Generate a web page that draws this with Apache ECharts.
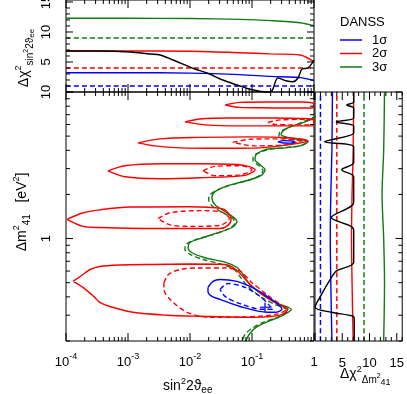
<!DOCTYPE html>
<html>
<head>
<meta charset="utf-8">
<script src="https://cdn.jsdelivr.net/npm/echarts/dist/echarts.min.js"></script>
<style>
html, body { margin: 0; padding: 0; background: #fff; }
#chart { width: 407px; height: 394px; }
</style>
</head>
<body>
<div id="chart"></div>
<script>
// ---- data ----
// top pad: delta chi2 profile vs sin^2(2theta)
var profSin    = [1e-4, 3.5e-4, 1.08e-3, 2.26e-3, 3.3e-3, 5.3e-3, 0.012, 0.0188, 0.034, 0.064, 0.104, 0.175, 0.21, 0.262, 0.367, 0.458, 0.552, 0.64, 0.8, 0.96, 1.0];
var profSinChi = [6.83, 6.83, 6.67, 6.33, 6.17, 5.33, 3.83, 3.17, 2.0, 1.0, 0.33, 0.0, 0.2, 2.33, 1.83, 1.72, 2.33, 3.83, 4.0, 5.0, 5.33];
var levelSin = [1e-4, 1e-3, 1e-2, 0.064, 0.2, 0.594, 1.0];
var chi1Sin  = [3.22, 3.22, 3.15, 2.9, 2.6, 2.4, 1.9];
var chi2Sin  = [6.83, 6.83, 6.8, 6.55, 6.35, 6.17, 5.05];
var chi3Sin  = [12.3, 12.28, 12.25, 12.1, 11.9, 11.55, 11.05];
var chiLevels = [1, 4, 9];
var topTickLabels = [5, 10, 15];

// right pad: delta chi2 profile vs dm2
var profDm    = [10, 8.55, 8.16, 7.78, 6.65, 6.25, 5.87, 5.26, 4.57, 4.23, 3.29, 2.95, 2.64, 1.76, 1.39, 1.15, 0.69, 0.6, 0.526, 0.416, 0.34, 0.314, 0.295, 0.28, 0.2];
var profDmChi = [7.1, 7.1, 5.8, 7.1, 7.1, 3.9, 7.1, 7.1, 1.75, 7.1, 7.1, 4.9, 7.1, 7.1, 3.0, 7.1, 7.1, 3.9, 2.8, 1.2, 0.0, 3.0, 7.0, 7.2, 7.2];
var levelDm = [10, 4, 2, 1, 0.5, 0.2];
var chi1Dm  = [3.2, 3.1, 2.9, 2.8, 2.9, 3.1];
var chi2Dm  = [7.1, 7.0, 6.8, 6.7, 6.8, 7.0];
var chi3Dm  = [12.75, 12.6, 12.3, 12.6, 12.75, 12.6];
var dmTickLabels = [1, 10];

// main pad: contours [sin^2 2theta, dm2]
var red2A = [[0.037,8.16],[0.064,8.5],[0.195,8.55],[0.594,8.55],[0.93,8.45],[1.0,8.16],[0.93,7.78],[0.41,7.78],[0.135,7.8],[0.064,7.85],[0.037,8.16]];
var red2B = [[0.0083,6.25],[0.0145,6.55],[0.044,6.65],[0.195,6.65],[0.594,6.6],[0.93,6.55],[1.0,6.25],[0.93,5.87],[0.283,5.87],[0.064,5.87],[0.0175,5.97],[0.0083,6.25]];
var red1B = [[0.181,6.2],[0.283,6.45],[0.594,6.5],[1.0,6.45],[1.0,5.97],[0.41,5.97],[0.235,6.0],[0.181,6.2]];
var red2C = [[0.00145,4.5],[0.0033,4.79],[0.0145,4.9],[0.093,4.94],[0.41,4.86],[0.8,4.65],[0.494,4.43],[0.135,4.16],[0.0305,4.13],[0.0069,4.16],[0.0027,4.29],[0.00145,4.5]];
var red1C = [[0.049,4.53],[0.093,4.76],[0.283,4.79],[0.6,4.62],[0.34,4.36],[0.112,4.29],[0.049,4.53]];
var blue1C = [[0.262,4.57],[0.32,4.66],[0.42,4.64],[0.494,4.57],[0.42,4.48],[0.32,4.49],[0.262,4.57]];
var red2D = [[4.75e-4,2.9],[8.95e-4,3.14],[3.3e-3,3.24],[0.0145,3.24],[0.064,3.19],[0.112,2.95],[0.077,2.7],[0.0145,2.6],[3.3e-3,2.56],[8.95e-4,2.64],[4.75e-4,2.9]];
var red1D = [[0.0162,2.9],[0.0253,3.11],[0.064,3.14],[0.1,2.95],[0.064,2.72],[0.0253,2.68],[0.0162,2.9]];
var red2E = [[1.04e-4,1.35],[1.88e-4,1.5],[3.5e-4,1.57],[1.08e-3,1.64],[0.01,1.65],[0.0328,1.6],[0.041,1.5],[0.046,1.35],[0.041,1.23],[0.0305,1.17],[3.3e-3,1.17],[3.5e-4,1.19],[1.88e-4,1.21],[1.04e-4,1.35]];
var red1E = [[3.05e-3,1.37],[4.75e-3,1.5],[0.0145,1.55],[0.0305,1.53],[0.043,1.37],[0.0305,1.23],[0.01,1.21],[4.75e-3,1.24],[3.05e-3,1.37]];
var red2F = [[1.3e-4,0.51],[1.88e-4,0.569],[2.44e-4,0.615],[3.5e-4,0.645],[7.4e-4,0.66],[2.26e-3,0.666],[0.01,0.67],[0.0367,0.666],[0.049,0.635],[0.0665,0.569],[0.093,0.486],[0.162,0.403],[0.283,0.35],[0.38,0.33],[0.283,0.30],[0.104,0.29],[0.0145,0.295],[4.26e-3,0.30],[1.2e-3,0.314],[5.1e-4,0.344],[3.5e-4,0.367],[2.9e-4,0.397],[1.88e-4,0.464],[1.3e-4,0.51]];
var red1F = [[3.8e-3,0.50],[4.5e-3,0.57],[6.9e-3,0.615],[0.0145,0.63],[0.0367,0.63],[0.064,0.6],[0.1,0.5],[0.18,0.41],[0.3,0.35],[0.36,0.33],[0.25,0.305],[0.083,0.292],[0.021,0.29],[8.95e-3,0.314],[4.75e-3,0.385],[3.8e-3,0.45],[3.8e-3,0.50]];
var blue1F = [[0.0195,0.464],[0.0235,0.51],[0.0305,0.526],[0.0573,0.51],[0.093,0.471],[0.175,0.403],[0.305,0.329],[0.235,0.314],[0.175,0.314],[0.064,0.344],[0.0305,0.385],[0.0226,0.403],[0.0195,0.436],[0.0195,0.464]];
var blue0F = [[0.0305,0.45],[0.041,0.494],[0.077,0.464],[0.135,0.403],[0.218,0.329],[0.145,0.329],[0.064,0.36],[0.0367,0.403],[0.0305,0.45]];
var green3 = [[1.1,6.8],[1.0,6.65],[0.716,6.25],[0.41,5.78],[0.316,5.43],[0.294,5.1],[0.41,4.86],[0.665,4.71],[0.8,4.57],[0.594,4.29],[0.34,4.16],[0.195,4.1],[0.145,3.97],[0.116,3.73],[0.112,3.45],[0.135,3.19],[0.162,2.95],[0.145,2.72],[0.093,2.52],[0.0532,2.37],[0.0328,2.22],[0.0244,2.06],[0.0226,1.9],[0.0253,1.70],[0.0367,1.53],[0.0513,1.39],[0.0573,1.31],[0.0475,1.19],[0.0253,1.08],[0.0145,1.0],[0.01,0.94],[0.0093,0.87],[0.0108,0.80],[0.0175,0.74],[0.0367,0.69],[0.0573,0.635],[0.0716,0.569],[0.093,0.486],[0.145,0.416],[0.262,0.361],[0.43,0.329],[0.316,0.299],[0.181,0.272],[0.116,0.248],[0.093,0.226],[0.08,0.202],[0.078,0.19]];
var green3d = [[1.1,6.85],[1.0,6.75],[0.665,6.25],[0.38,5.69],[0.283,5.35],[0.272,5.02],[0.395,4.79],[0.64,4.64],[0.74,4.5],[0.57,4.29],[0.316,4.16],[0.181,4.04],[0.13,3.85],[0.104,3.61],[0.104,3.39],[0.13,3.14],[0.15,2.9],[0.13,2.68],[0.083,2.48],[0.0475,2.33],[0.028,2.15],[0.021,1.99],[0.02,1.84],[0.0235,1.65],[0.034,1.5],[0.049,1.37],[0.0532,1.28],[0.043,1.17],[0.0226,1.06],[0.0125,0.985],[0.0086,0.91],[0.0083,0.84],[0.01,0.78],[0.0162,0.72],[0.0328,0.666],[0.0513,0.615],[0.064,0.55],[0.086,0.47],[0.135,0.403],[0.235,0.355],[0.38,0.324],[0.283,0.295],[0.15,0.268],[0.1,0.244],[0.077,0.222],[0.071,0.202],[0.069,0.19]];
var bestFit = [[0.162, 0.34]];
var legendNames = ['1σ', '2σ', '3σ'];

var FONT = 'Liberation Sans';
var RED = '#ff0000', BLUE = '#0000ff', GREEN = '#117a11';

// pad layout (pixels) and axis ranges
var pads = [
	{ left: 66, top: 0, width: 248, height: 92, x: [1e-4, 1], y: [0, 15.33], xLog: true, yLog: false },
	{ left: 66, top: 92, width: 248, height: 249, x: [1e-4, 1], y: [0.2, 10], xLog: true, yLog: true },
	{ left: 315, top: 92, width: 91, height: 249, x: [0, 16], y: [0.2, 10], xLog: false, yLog: true }
];

function zip(a, b) {
	var out = [];
	for (var i = 0; i < a.length; i++) out.push([a[i], b[i]]);
	return out;
}
function curve(data, color, dashed, gi, w) {
	return {
		type: 'line', xAxisIndex: gi, yAxisIndex: gi,
		data: data, symbol: 'none', smooth: 0.3, silent: true, clip: true,
		lineStyle: { color: color, width: w || 1.4, type: dashed ? [5, 3] : 'solid' },
		z: 3
	};
}
// horizontal / vertical level lines
function levelLine(v, color, gi, horiz) {
	var d = horiz ? [[1e-4, v], [1, v]] : [[v, 0.2], [v, 10]];
	return curve(d, color, true, gi, 1.5);
}

function logTicks(lo, hi) {
	var t = [];
	for (var e = Math.floor(Math.log10(lo)); e <= Math.ceil(Math.log10(hi)); e++) {
		for (var k = 1; k <= 9; k++) {
			var v = k * Math.pow(10, e);
			if (v >= lo * 0.999 && v <= hi * 1.001) t.push({ v: v, major: k === 1 });
		}
	}
	return t;
}
function linTicks(lo, hi) {
	var t = [];
	for (var v = lo; v <= hi; v++) t.push({ v: v, major: v % 5 === 0 });
	return t;
}
// step a value inward by n pixels along an axis of a pad
function stepIn(v, n, range, span, isLog) {
	if (isLog) {
		var dec = Math.log10(range[1]) - Math.log10(range[0]);
		return v * Math.pow(10, n * dec / span);
	}
	return v + n * (range[1] - range[0]) / span;
}
// inside tick marks as a broken line series on each pad
function tickSeries(gi, xt, yt, sides) {
	var p = pads[gi], d = [];
	xt.forEach(function (t) {
		var L = t.major ? 8 : 4;
		if (sides.indexOf('b') >= 0) d.push([t.v, p.y[0]], [t.v, stepIn(p.y[0], L, p.y, p.height, p.yLog)], null);
		if (sides.indexOf('t') >= 0) d.push([t.v, p.y[1]], [t.v, stepIn(p.y[1], -L, p.y, p.height, p.yLog)], null);
	});
	yt.forEach(function (t) {
		var L = t.major ? 7 : 4;
		if (sides.indexOf('l') >= 0) d.push([p.x[0], t.v], [stepIn(p.x[0], L, p.x, p.width, p.xLog), t.v], null);
		if (sides.indexOf('r') >= 0) d.push([p.x[1], t.v], [stepIn(p.x[1], -L, p.x, p.width, p.xLog), t.v], null);
	});
	return {
		type: 'line', xAxisIndex: gi, yAxisIndex: gi, data: d, symbol: 'none', silent: true,
		connectNulls: false, clip: false, lineStyle: { color: '#000', width: 1 }, z: 8
	};
}

var myChart = echarts.init(document.getElementById('chart'));

var axisBase = { axisLine: { show: false }, axisTick: { show: false }, splitLine: { show: false } };
var supRich = {
	sup: { fontSize: 9, fontFamily: FONT, color: '#000', padding: [0, 0, 11, 0] },
	one: { fontSize: 13, fontFamily: FONT, color: '#000', lineHeight: 21 }
};

var series = [
	// top pad
	levelLine(chiLevels[0], BLUE, 0, true),
	levelLine(chiLevels[1], RED, 0, true),
	levelLine(chiLevels[2], GREEN, 0, true),
	curve(zip(levelSin, chi1Sin), BLUE, false, 0),
	curve(zip(levelSin, chi2Sin), RED, false, 0),
	curve(zip(levelSin, chi3Sin), GREEN, false, 0),
	curve(zip(profSin, profSinChi), '#000', false, 0),
	// main pad
	curve(green3, GREEN, false, 1),
	curve(green3d, GREEN, true, 1),
	curve(red2A, RED, false, 1),
	curve(red2B, RED, false, 1),
	curve(red2C, RED, false, 1),
	curve(red2D, RED, false, 1),
	curve(red2E, RED, false, 1),
	curve(red2F, RED, false, 1),
	curve(red1B, RED, true, 1),
	curve(red1C, RED, true, 1),
	curve(red1D, RED, true, 1),
	curve(red1E, RED, true, 1),
	curve(red1F, RED, true, 1),
	curve(blue1F, BLUE, false, 1),
	curve(blue1C, BLUE, false, 1),
	curve(blue0F, BLUE, true, 1),
	{
		type: 'scatter', xAxisIndex: 1, yAxisIndex: 1, data: bestFit, silent: true, z: 6,
		symbol: 'path://M0,5L10,5M5,0L5,10', symbolSize: [10, 9],
		itemStyle: { color: 'none', borderColor: BLUE, borderWidth: 1.6 }
	},
	// right pad
	levelLine(chiLevels[0], BLUE, 2, false),
	levelLine(chiLevels[1], RED, 2, false),
	levelLine(chiLevels[2], GREEN, 2, false),
	curve(zip(chi1Dm, levelDm), BLUE, false, 2),
	curve(zip(chi2Dm, levelDm), RED, false, 2),
	curve(zip(chi3Dm, levelDm), GREEN, false, 2),
	curve(zip(profDmChi, profDm), '#000', false, 2),
	// ticks
	tickSeries(0, logTicks(1e-4, 1), linTicks(0, 15), 'btlr'),
	tickSeries(1, logTicks(1e-4, 1), logTicks(0.2, 10), 'btlr'),
	tickSeries(2, linTicks(0, 16), logTicks(0.2, 10), 'btr')
];

myChart.setOption({
	animation: false,
	textStyle: { fontFamily: FONT },
	grid: pads.map(function (p) {
		return { left: p.left, top: p.top, width: p.width, height: p.height, show: true, borderColor: '#000', borderWidth: 1 };
	}),
	xAxis: [
		Object.assign({ gridIndex: 0, type: 'log', min: 1e-4, max: 1, axisLabel: { show: false } }, axisBase),
		Object.assign({ gridIndex: 1, type: 'log', min: 1e-4, max: 1,
			axisLabel: {
				color: '#000', fontSize: 13, margin: 11, showMinLabel: true, showMaxLabel: true, rich: supRich,
				formatter: function (v) {
					var e = Math.round(Math.log10(v));
					if (e === 0) return '{one|1}';
					return '10{sup|' + e + '}';
				}
			} }, axisBase),
		Object.assign({ gridIndex: 2, type: 'value', min: 0, max: 16, interval: 5,
			axisLabel: {
				color: '#000', fontSize: 13, margin: 16,
				formatter: function (v) { return (v === 5 || v === 10 || v === 15) ? String(v) : ''; }
			} }, axisBase)
	],
	yAxis: [
		Object.assign({ gridIndex: 0, type: 'value', min: 0, max: 15.33, axisLabel: { show: false } }, axisBase),
		Object.assign({ gridIndex: 1, type: 'log', min: 0.2, max: 10, axisLabel: { show: false } }, axisBase),
		Object.assign({ gridIndex: 2, type: 'log', min: 0.2, max: 10, axisLabel: { show: false } }, axisBase)
	],
	series: series
});

// ---- rotated y labels, legend and titles ----
var els = [];
function seg(x1, y1, x2, y2, color, w) {
	els.push({ type: 'line', silent: true, z: 100,
		shape: { x1: x1, y1: y1, x2: x2, y2: y2 },
		style: { stroke: color || '#000', lineWidth: w || 1 } });
}
function rotLabel(gi, yv, txt) {
	var p = myChart.convertToPixel({ gridIndex: gi }, [pads[gi].x[0], yv]);
	els.push({ type: 'text', x: 46, y: p[1], rotation: Math.PI / 2, silent: true, z: 100,
		style: { text: txt, font: '13px ' + FONT, fill: '#000',
			align: 'center', verticalAlign: 'middle', textAlign: 'center', textVerticalAlign: 'middle' } });
}
topTickLabels.forEach(function (v) { rotLabel(0, v, String(v)); });
dmTickLabels.forEach(function (v) { rotLabel(1, v, String(v)); });

// legend
var legColors = [BLUE, RED, GREEN];
els.push({ type: 'text', x: 340, y: 22, silent: true,
	style: { text: 'DANSS', font: '13px ' + FONT, fill: '#000', textVerticalAlign: 'middle', verticalAlign: 'middle' } });
legendNames.forEach(function (n, i) {
	var y = 40 + i * 13.5;
	seg(340, y, 362, y, legColors[i], 1.5);
	els.push({ type: 'text', x: 372, y: y, silent: true,
		style: { text: n, font: '13px ' + FONT, fill: '#000', textVerticalAlign: 'middle', verticalAlign: 'middle' } });
});

// titles
els.push({ type: 'text', x: 163, y: 377, silent: true, style: {
	text: 'sin{sup|2}2ϑ{sub|ee}', font: '14px ' + FONT, fill: '#000',
	rich: {
		sup: { fontSize: 9, fontFamily: FONT, padding: [0, 0, 10, 0] },
		sub: { fontSize: 10, fontFamily: FONT, padding: [7, 0, 0, 0] }
	} } });
els.push({ type: 'text', x: 340, y: 362, silent: true, style: {
	text: 'Δχ{sup|2}{sub|Δm}{ss|2}{sub2|41}', font: '14px ' + FONT, fill: '#000',
	rich: {
		sup: { fontSize: 9, fontFamily: FONT, padding: [0, 0, 10, 0] },
		sub: { fontSize: 10, fontFamily: FONT, padding: [12, 0, 0, 0] },
		ss: { fontSize: 7, fontFamily: FONT, padding: [4, 0, 0, 0] },
		sub2: { fontSize: 9, fontFamily: FONT, padding: [16, 0, 0, 0] }
	} } });
els.push({ type: 'text', x: 22, y: 212, rotation: Math.PI / 2, silent: true, style: {
	text: 'Δm{sup|2}{sub|41}   [eV{sup|2}]', font: '14px ' + FONT, fill: '#000',
	align: 'center', verticalAlign: 'middle', textAlign: 'center', textVerticalAlign: 'middle',
	rich: {
		sup: { fontSize: 9, fontFamily: FONT, padding: [0, 0, 10, 0] },
		sub: { fontSize: 10, fontFamily: FONT, padding: [10, 0, 0, 0] }
	} } });
els.push({ type: 'text', x: 24, y: 58, rotation: Math.PI / 2, silent: true, style: {
	text: 'Δχ{sup|2}{sub|sin}{ss|2}{sub|2ϑ}{sub2|ee}', font: '14px ' + FONT, fill: '#000',
	align: 'center', verticalAlign: 'middle', textAlign: 'center', textVerticalAlign: 'middle',
	rich: {
		sup: { fontSize: 9, fontFamily: FONT, padding: [0, 0, 10, 0] },
		sub: { fontSize: 10, fontFamily: FONT, padding: [12, 0, 0, 0] },
		ss: { fontSize: 7, fontFamily: FONT, padding: [4, 0, 0, 0] },
		sub2: { fontSize: 8, fontFamily: FONT, padding: [16, 0, 0, 0] }
	} } });

myChart.setOption({ graphic: { elements: els } });
</script>
</body>
</html>
